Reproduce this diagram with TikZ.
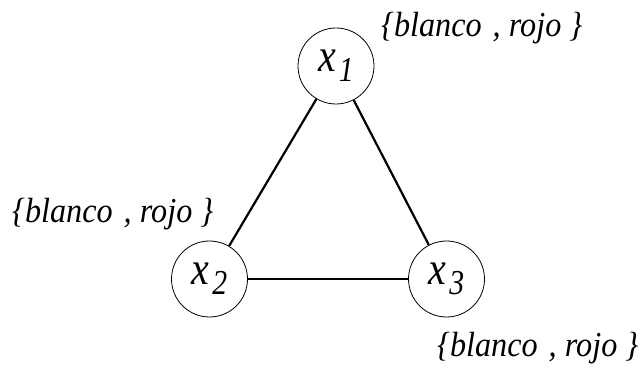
\documentclass[tikz,border=0pt]{standalone}
\usepackage{fontspec}
\setmainfont{Liberation Serif}
\begin{document}
\begin{tikzpicture}[x=1pt,y=-1pt,
  vert/.style={draw, circle, line width=0.8pt, minimum size=76pt, inner sep=0pt},
  lab/.style={inner sep=0pt, font=\fontsize{35}{35}\selectfont\itshape},
  edge/.style={line width=2.2pt}]
\path[use as bounding box] (0,0) rectangle (640,371);
\newcommand{\vlab}[1]{\scalebox{0.85}[1]{\fontsize{47}{47}\selectfont\itshape x}\kern3pt\raisebox{-10pt}{\scalebox{0.85}[1]{\fontsize{35}{35}\selectfont\itshape #1}}}
\newcommand{\setlab}{\scalebox{0.92}[1]{\{blanco\hspace{12pt}, rojo \}}}
\node[vert] (x1) at (336,66) {\vlab{1}};
\node[vert] (x2) at (209.5,279) {\vlab{2}};
\node[vert] (x3) at (446.5,279) {\vlab{3}};
\draw[edge] (x1) -- (x2);
\draw[edge] (x1) -- (x3);
\draw[edge] (x2) -- (x3);
\node[lab, anchor=west] (l1) at (381,28) {\setlab};
\node[lab, anchor=west] (l2) at (12,214) {\setlab};
\node[lab, anchor=west] (l3) at (437,348) {\setlab};
\end{tikzpicture}
\end{document}
